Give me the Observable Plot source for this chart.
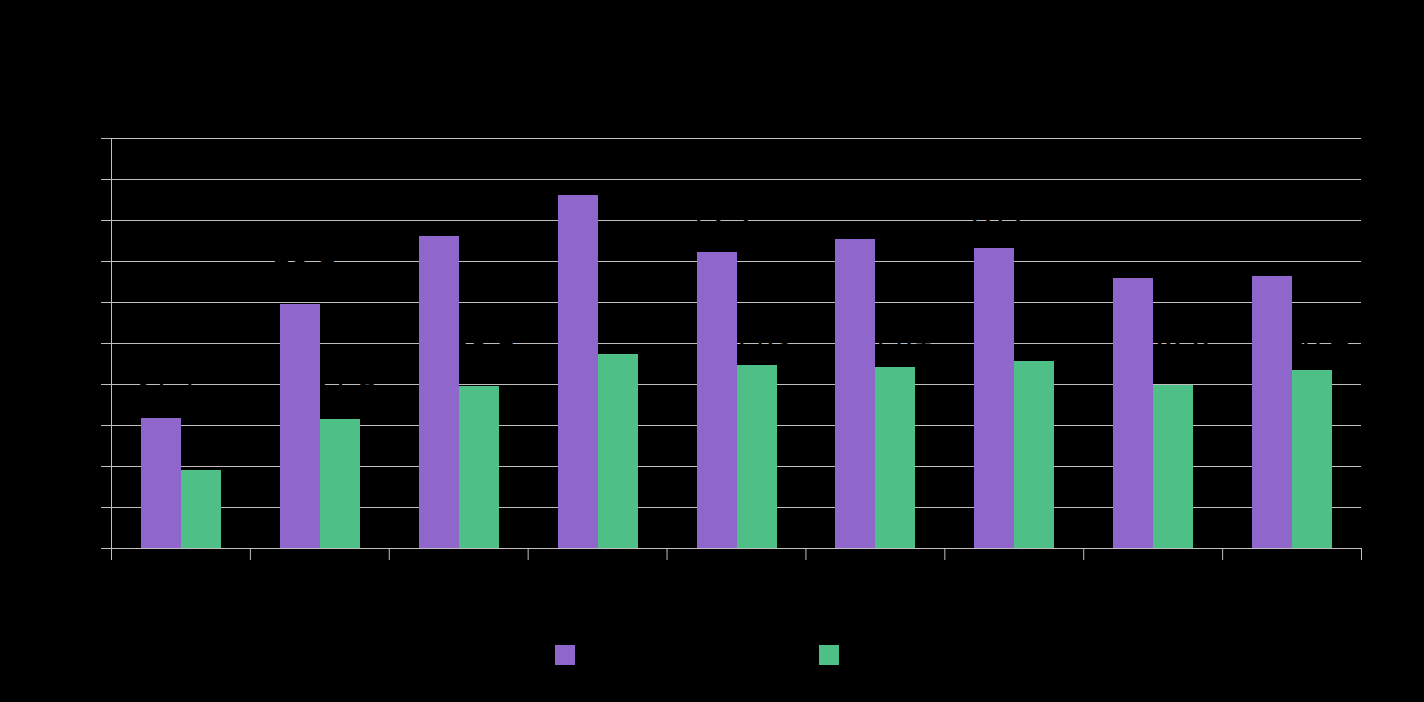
<!DOCTYPE html>
<html>
<head>
<meta charset="utf-8">
<script src="https://cdn.jsdelivr.net/npm/d3@7"></script>
<script src="https://cdn.jsdelivr.net/npm/@observablehq/plot@0.6"></script>
<style>
  html, body { margin: 0; padding: 0; background: #000; overflow: hidden; }
  body { width: 1424px; height: 702px; font-family: "Liberation Sans", Arial, sans-serif; color: #000; }
  #legend { position: relative; height: 40px; margin-top: 25px; }
  .item { position: absolute; top: 0; display: flex; align-items: center; gap: 8px; font-size: 16px; color: #000; }
  .swatch { width: 20px; height: 20px; display: inline-block; }
</style>
</head>
<body>
<div id="chart"></div>
<div id="legend"></div>
<script>
// ---- data ----
const categories = ["2015", "2016", "2017", "2018", "2019", "2020", "2021", "2022", "2023"];
const seriesNames = ["Series A", "Series B"];
const seriesAValues = [31.7, 59.5, 76.1, 86.1, 72.2, 75.4, 73.2, 65.9, 66.3];
const seriesBValues = [19.0, 31.5, 39.5, 47.3, 44.6, 44.1, 45.6, 39.8, 43.4];
const yTicks = [0, 10, 20, 30, 40, 50, 60, 70, 80, 90, 100];
const colors = ["#8f66cc", "#4fbf88"];

const data = categories.flatMap((c, i) => [
  {cat: c, series: seriesNames[0], value: seriesAValues[i]},
  {cat: c, series: seriesNames[1], value: seriesBValues[i]}
]);

const width = 1424, marginLeft = 111, marginRight = 63;
const step = (width - marginLeft - marginRight) / categories.length;
const outer = 30, barW = 40;
const grid = "#bfbfbf";

const chart = Plot.plot({
  width,
  height: 620,
  marginTop: 138,
  marginBottom: 72,
  marginLeft,
  marginRight,
  style: {background: "#000", color: "#000", fontFamily: "Liberation Sans, Arial, sans-serif", fontSize: "14px"},
  x: {domain: categories, padding: 0, round: false, axis: null},
  y: {domain: [0, 100], axis: null},
  marks: [
    Plot.gridY(yTicks, {stroke: grid, strokeOpacity: 1, strokeWidth: 1}),
    Plot.axisY({ticks: yTicks, tickSize: 10, stroke: grid, strokeOpacity: 1, fill: "#000", tickFormat: d => d + "%", fontSize: 14}),
    // left axis line (extends into first x tick)
    Plot.ruleX([categories[0]], {x: d => d, dx: -step / 2, stroke: grid, insetBottom: -12}),
    // group boundary ticks below the x axis
    Plot.ruleX(categories.slice(1), {x: d => d, y1: 0, y2: 0, dx: -step / 2, stroke: grid, insetBottom: -12}),
    Plot.ruleX([categories[categories.length - 1]], {x: d => d, y1: 0, y2: 0, dx: step / 2, stroke: grid, insetBottom: -12}),
    Plot.axisX({tickSize: 0, tickPadding: 18, fill: "#000", fontSize: 16}),
    // value labels (black, drawn beneath the bars)
    Plot.text(data.filter(d => d.series === seriesNames[0]), {
      x: "cat", y: "value", text: d => d.value.toFixed(1), dx: outer + barW / 2 - step / 2 + 4, dy: -32.5,
      lineAnchor: "middle", fill: "#000", fontSize: 33
    }),
    Plot.text(data.filter(d => d.series === seriesNames[1]), {
      x: "cat", y: "value", text: d => d.value.toFixed(1), dx: outer + barW * 1.5 - step / 2 + 4, dy: -32.5,
      lineAnchor: "middle", fill: "#000", fontSize: 33
    }),
    Plot.barY(data.filter(d => d.series === seriesNames[0]), {
      x: "cat", y: "value", fill: colors[0], insetLeft: outer, insetRight: step - outer - barW, shapeRendering: "crispEdges"
    }),
    Plot.barY(data.filter(d => d.series === seriesNames[1]), {
      x: "cat", y: "value", fill: colors[1], insetLeft: outer + barW, insetRight: step - outer - 2 * barW, shapeRendering: "crispEdges"
    })
  ]
});
document.getElementById("chart").appendChild(chart);

const legend = document.getElementById("legend");
const legendX = [555, 819];
seriesNames.forEach((name, i) => {
  const item = document.createElement("div");
  item.className = "item";
  item.style.left = legendX[i] + "px";
  const sw = document.createElement("span");
  sw.className = "swatch";
  sw.style.background = colors[i];
  const label = document.createElement("span");
  label.textContent = name;
  item.appendChild(sw);
  item.appendChild(label);
  legend.appendChild(item);
});
</script>
</body>
</html>
